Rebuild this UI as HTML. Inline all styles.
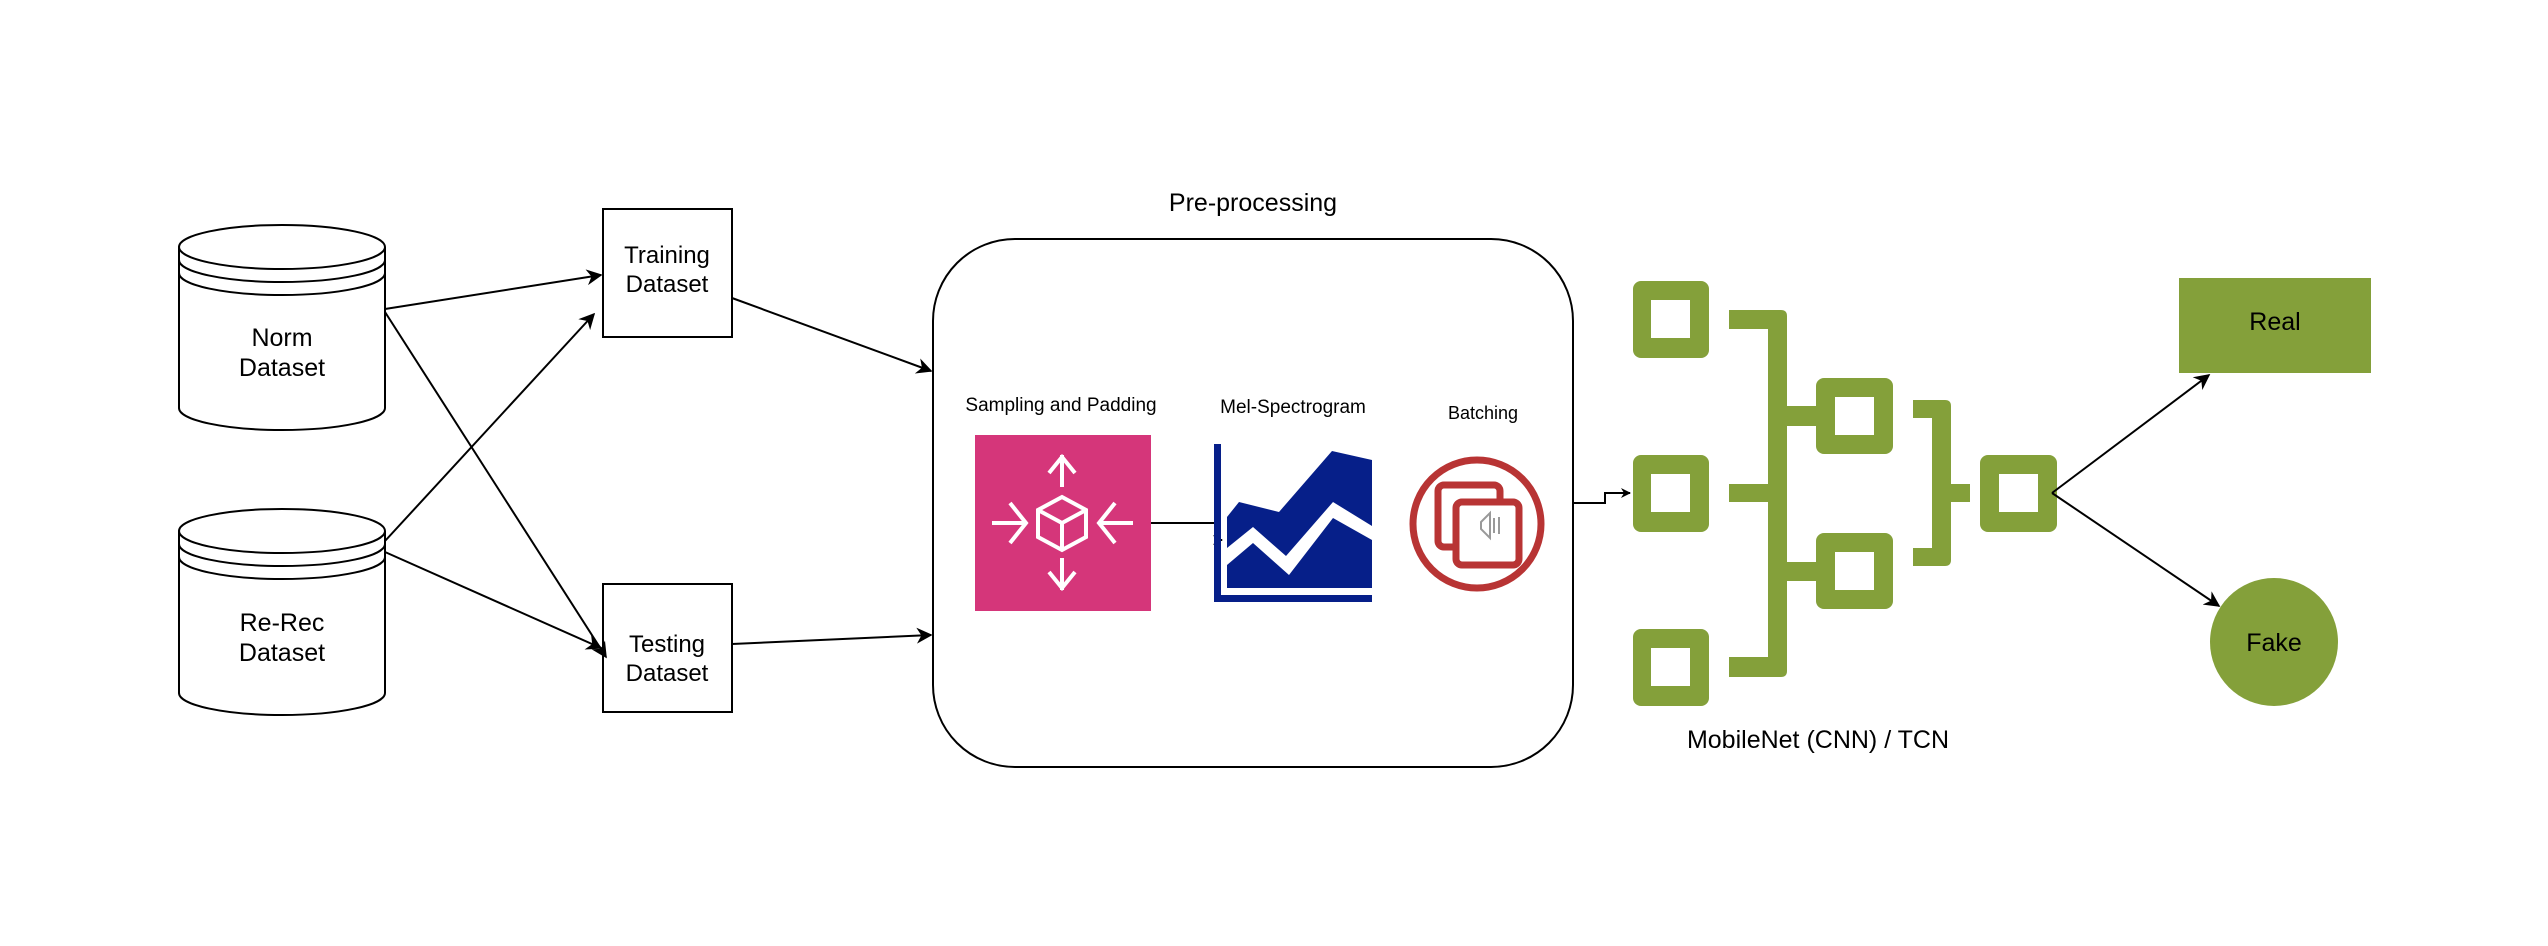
<!DOCTYPE html>
<html><head><meta charset="utf-8"><style>
html,body{margin:0;padding:0;background:#fff;}
svg{display:block;}
text{font-family:"Liberation Sans",Arial,sans-serif;fill:#000;}
</style></head><body>
<svg width="2548" height="946" viewBox="0 0 2548 946" xmlns="http://www.w3.org/2000/svg">
<defs>
<marker id="ah" viewBox="0 0 10 10" refX="9" refY="5" markerWidth="10" markerHeight="10" markerUnits="userSpaceOnUse" orient="auto">
<path d="M0,0 L10,5 L0,10 L3,5 Z" fill="#000"/>
</marker>
<marker id="ahb" viewBox="0 0 10 10" refX="9" refY="5" markerWidth="16" markerHeight="16" markerUnits="userSpaceOnUse" orient="auto">
<path d="M0,0 L10,5 L0,10 L3,5 Z" fill="#000"/>
</marker>
</defs>

<!-- Norm cylinder -->
<g fill="#fff" stroke="#000" stroke-width="2">
<path d="M179,247 A103,22 0 0 1 385,247 L385,408 A103,22 0 0 1 179,408 Z"/>
<path d="M179,247 A103,22 0 0 0 385,247" fill="none"/>
<path d="M179,247 L179,260 A103,22 0 0 0 385,260 L385,247" fill="none"/>
<path d="M179,260 L179,273 A103,22 0 0 0 385,273 L385,260" fill="none"/>
</g>
<text x="282" y="346" font-size="25" text-anchor="middle">Norm</text>
<text x="282" y="376" font-size="25" text-anchor="middle">Dataset</text>

<!-- Re-Rec cylinder -->
<g fill="#fff" stroke="#000" stroke-width="2">
<path d="M179,531 A103,22 0 0 1 385,531 L385,693 A103,22 0 0 1 179,693 Z"/>
<path d="M179,531 A103,22 0 0 0 385,531" fill="none"/>
<path d="M179,531 L179,544 A103,22 0 0 0 385,544 L385,531" fill="none"/>
<path d="M179,544 L179,557 A103,22 0 0 0 385,557 L385,544" fill="none"/>
</g>
<text x="282" y="631" font-size="25" text-anchor="middle">Re-Rec</text>
<text x="282" y="661" font-size="25" text-anchor="middle">Dataset</text>

<!-- Training / Testing boxes -->
<rect x="603" y="209" width="129" height="128" fill="#fff" stroke="#000" stroke-width="2"/>
<text x="667" y="263" font-size="24" text-anchor="middle">Training</text>
<text x="667" y="292" font-size="24" text-anchor="middle">Dataset</text>
<rect x="603" y="584" width="129" height="128" fill="#fff" stroke="#000" stroke-width="2"/>
<text x="667" y="652" font-size="24" text-anchor="middle">Testing</text>
<text x="667" y="681" font-size="24" text-anchor="middle">Dataset</text>

<!-- left arrows -->
<g stroke="#000" stroke-width="2" fill="none">
<line x1="385" y1="309" x2="601" y2="275" marker-end="url(#ahb)"/>
<line x1="385" y1="312" x2="606" y2="657" marker-end="url(#ahb)"/>
<line x1="385" y1="541" x2="594" y2="314" marker-end="url(#ahb)"/>
<line x1="385" y1="552" x2="601" y2="648" marker-end="url(#ahb)"/>
<line x1="732" y1="298" x2="931" y2="371" marker-end="url(#ahb)"/>
<line x1="732" y1="644" x2="931" y2="635" marker-end="url(#ahb)"/>
</g>

<!-- Pre-processing container -->
<text x="1253" y="211" font-size="25" text-anchor="middle">Pre-processing</text>
<rect x="933" y="239" width="640" height="528" rx="82" ry="82" fill="none" stroke="#000" stroke-width="2"/>

<text x="1061" y="411" font-size="19" text-anchor="middle">Sampling and Padding</text>
<text x="1293" y="413" font-size="19" text-anchor="middle">Mel-Spectrogram</text>
<text x="1483" y="419" font-size="18" text-anchor="middle">Batching</text>

<!-- pink icon -->
<rect x="975" y="435" width="176" height="176" fill="#D5367A"/>
<g stroke="#fff" stroke-width="4" fill="none" stroke-linejoin="miter">
<line x1="1062" y1="487" x2="1062" y2="455"/><polyline points="1049,473 1062,457 1075,473"/>
<line x1="1062" y1="558" x2="1062" y2="590"/><polyline points="1049,572 1062,588 1075,572"/>
<line x1="992" y1="523" x2="1025" y2="523"/><polyline points="1010,503 1026,523 1010,543"/>
<line x1="1133" y1="523" x2="1100" y2="523"/><polyline points="1115,503 1099,523 1115,543"/>
<polygon points="1062,497 1086,510 1086,537 1062,550 1038,537 1038,510"/>
<polyline points="1038,510 1062,523 1086,510"/>
<line x1="1062" y1="523" x2="1062" y2="550"/>
</g>

<!-- arrow pink -> chart -->
<polyline points="1151,523 1216,523 1216,540 1222,540" fill="none" stroke="#000" stroke-width="2" marker-end="url(#ah)"/>

<!-- chart -->
<g fill="#061F89">
<rect x="1214" y="444" width="7" height="158"/>
<rect x="1214" y="595" width="158" height="7"/>
<polygon points="1227,517 1239,502 1279,512 1332,451 1372,460 1372,526 1333,502 1286,556 1253,527 1227,548"/>
<polygon points="1227,565 1253,543 1289,575 1333,518 1372,540 1372,588 1227,588"/>
</g>

<!-- batching icon -->
<circle cx="1477" cy="524" r="64" fill="#fff" stroke="#B83434" stroke-width="7"/>
<rect x="1438" y="485" width="62" height="62" rx="6" fill="#fff" stroke="#B83434" stroke-width="7"/>
<rect x="1456" y="502" width="63" height="63" rx="6" fill="#fff" stroke="#B83434" stroke-width="7"/>
<g stroke="#999" stroke-width="2" fill="none">
<path d="M1481,522 L1490,513 L1490,538 L1481,529 Z"/>
<line x1="1494" y1="518" x2="1494" y2="533"/>
<line x1="1499" y1="517" x2="1499" y2="534"/>
</g>

<!-- connector to network -->
<polyline points="1573,503 1605,503 1605,493 1630,493" fill="none" stroke="#000" stroke-width="2" marker-end="url(#ah)"/>

<!-- network -->
<g fill="#84A03A">
<rect x="1633" y="281" width="76" height="77" rx="8"/>
<rect x="1633" y="455" width="76" height="77" rx="8"/>
<rect x="1633" y="629" width="76" height="77" rx="8"/>
<rect x="1816" y="378" width="77" height="76" rx="8"/>
<rect x="1816" y="533" width="77" height="76" rx="8"/>
<rect x="1980" y="455" width="77" height="77" rx="8"/>
<path d="M1729,310 L1781,310 Q1787,310 1787,316 L1787,671 Q1787,677 1781,677 L1729,677 L1729,657 L1768,657 L1768,329 L1729,329 Z"/>
<rect x="1729" y="484" width="45" height="18"/>
<rect x="1780" y="406" width="40" height="20"/>
<rect x="1780" y="562" width="40" height="19"/>
<path d="M1913,400 L1945,400 Q1951,400 1951,406 L1951,560 Q1951,566 1945,566 L1913,566 L1913,548 L1932,548 L1932,418 L1913,418 Z"/>
<rect x="1945" y="484" width="25" height="18"/>
<rect x="2179" y="278" width="192" height="95"/>
<ellipse cx="2274" cy="642" rx="64" ry="64"/>
</g>
<g fill="#fff">
<rect x="1651" y="300" width="39" height="38"/>
<rect x="1651" y="474" width="39" height="38"/>
<rect x="1651" y="648" width="39" height="38"/>
<rect x="1835" y="397" width="39" height="38"/>
<rect x="1835" y="552" width="39" height="38"/>
<rect x="1999" y="474" width="39" height="38"/>
</g>
<text x="2275" y="330" font-size="25" text-anchor="middle">Real</text>
<text x="2274" y="651" font-size="25" text-anchor="middle">Fake</text>

<g stroke="#000" stroke-width="2" fill="none">
<line x1="2052" y1="493" x2="2209" y2="375" marker-end="url(#ahb)"/>
<line x1="2052" y1="493" x2="2219" y2="606" marker-end="url(#ahb)"/>
</g>

<text x="1818" y="748" font-size="25" text-anchor="middle">MobileNet (CNN) / TCN</text>
</svg>
</body></html>
